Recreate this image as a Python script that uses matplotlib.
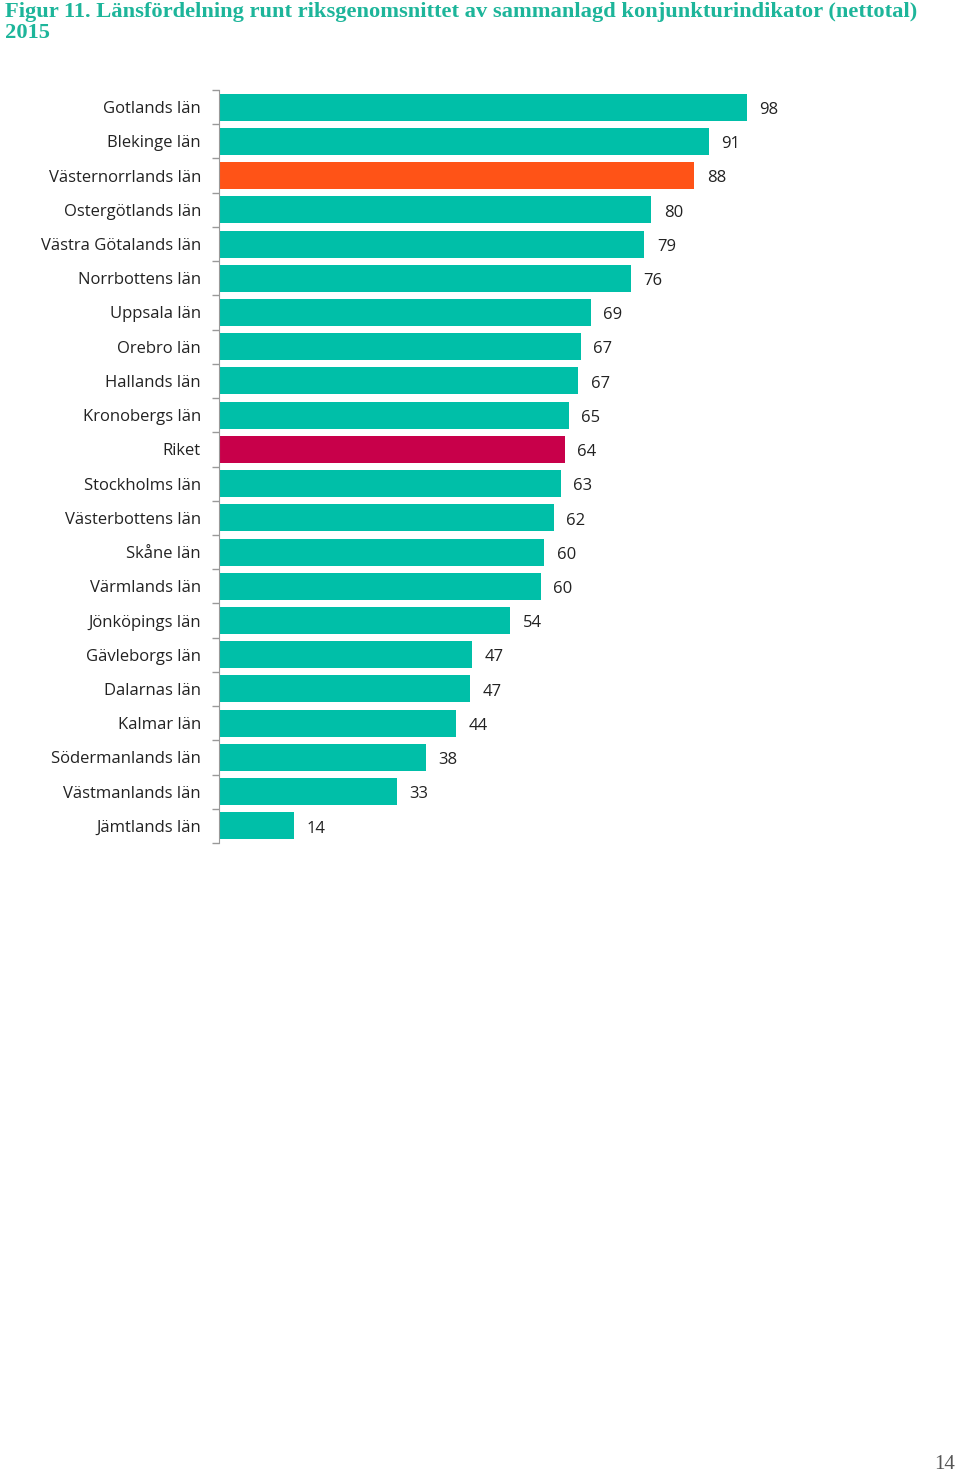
import matplotlib.pyplot as plt
from matplotlib.ticker import FixedLocator, NullLocator

regions = ['Gotlands län', 'Blekinge län', 'Västernorrlands län', 'Ostergötlands län',
           'Västra Götalands län', 'Norrbottens län', 'Uppsala län', 'Orebro län',
           'Hallands län', 'Kronobergs län', 'Riket', 'Stockholms län',
           'Västerbottens län', 'Skåne län', 'Värmlands län', 'Jönköpings län',
           'Gävleborgs län', 'Dalarnas län', 'Kalmar län', 'Södermanlands län',
           'Västmanlands län', 'Jämtlands län']
values = [98, 91, 88, 80, 79, 76, 69, 67, 67, 65, 64, 63, 62, 60, 60, 54, 47, 47, 44, 38, 33, 14]
# bar lengths as drawn (slightly finer than the rounded labels)
lengths = [98, 91, 88.3, 80.3, 79, 76.5, 69, 67.2, 66.7, 65, 64.2, 63.5, 62.2, 60.4, 59.8, 54.1,
           47, 46.7, 44, 38.5, 33, 14]

teal = '#00BFA8'
highlight = {'Västernorrlands län': '#FF5317', 'Riket': '#C8004A'}
colors = [highlight.get(r, teal) for r in regions]

fig = plt.figure(figsize=(9.6, 14.76), dpi=100)
ax = fig.add_axes([219 / 960, 1 - 843 / 1476, 700 / 960, 753 / 1476])

y = list(range(len(regions)))
ax.barh(y, lengths, height=0.79, color=colors)
ax.set_ylim(len(regions) - 0.5, -0.5)
ax.set_xlim(0, 130)

for yi, v, l in zip(y, values, lengths):
    ax.text(l + 2.3, yi + 0.08, str(v), va='center', ha='left',
            fontsize=12, family='Open Sans', color='#222222')

ax.yaxis.set_major_locator(FixedLocator(y))
ax.set_yticklabels(regions, fontsize=12, family='Open Sans', color='#222222')
ax.tick_params(axis='y', which='major', length=0, pad=13)
ax.yaxis.set_minor_locator(FixedLocator([i - 0.5 for i in range(len(regions) + 1)]))
ax.tick_params(axis='y', which='minor', length=5, color='#999999', width=1)
ax.xaxis.set_major_locator(NullLocator())
for s in ['top', 'right', 'bottom']:
    ax.spines[s].set_visible(False)
ax.spines['left'].set_color('#999999')

fig.text(5 / 960, 1 - 2 / 1476,
         'Figur 11. Länsfördelning runt riksgenomsnittet av sammanlagd konjunkturindikator (nettotal)\n2015',
         ha='left', va='top', fontsize=16.2, family='Liberation Serif', fontweight='bold',
         color='#1DB59A', linespacing=1.1)
fig.text(955 / 960, 1 - 1474 / 1476, '14', ha='right', va='bottom', fontsize=15,
         family='Liberation Serif', color='#555555')

fig.savefig('out.png', dpi=100)
